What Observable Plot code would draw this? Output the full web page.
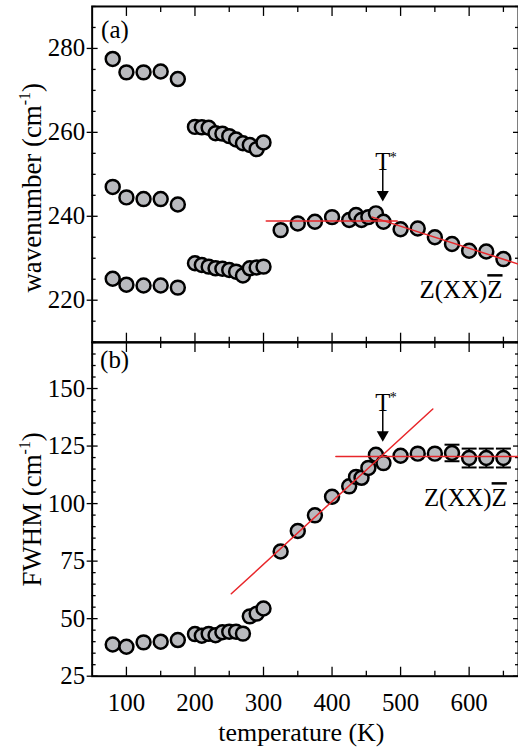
<!DOCTYPE html>
<html><head><meta charset="utf-8">
<script src="https://cdn.jsdelivr.net/npm/d3@7"></script>
<script src="https://cdn.jsdelivr.net/npm/@observablehq/plot@0.6"></script>
<style>html,body{margin:0;padding:0;overflow:hidden;background:#fff}svg{display:block}</style>
</head><body><div id="chart"></div>
<script>
// ---- data ----
const tempLow  = [80, 100, 125, 150, 175];
const tempMid  = [200, 210, 220, 230, 240, 250, 260, 270, 280, 290, 300];
const tempHigh = [325, 350, 375, 400, 425, 435, 443, 453, 464, 475, 500, 525, 550, 575, 600, 625, 650];

const wnLowA = [277.5, 274.3, 274.3, 274.5, 272.7];
const wnLowB = [247.0, 244.5, 244.1, 244.1, 242.8];
const wnLowC = [225.1, 223.7, 223.5, 223.5, 223.0];
const wnMidA = [261.3, 261.2, 261.1, 259.8, 259.7, 259.1, 258.3, 257.4, 257.0, 256.0, 257.6];
const wnMidB = [228.8, 228.4, 228.0, 227.6, 227.5, 227.2, 226.8, 225.9, 227.6, 227.8, 228.0];
const wnHigh = [236.7, 238.3, 238.7, 239.8, 239.1, 240.3, 239.1, 239.8, 240.7, 238.7, 236.9, 237.1, 235.0, 233.4, 231.8, 231.6, 229.8];

const fwLow  = [38.8, 37.8, 39.7, 40.0, 40.7];
const fwMid  = [43.3, 42.6, 43.4, 42.8, 44.1, 44.3, 44.3, 43.5, 51.0, 52.2, 54.4];
const fwHigh = [79.2, 88.1, 94.9, 103.0, 107.5, 111.6, 111.2, 115.5, 121.2, 117.6, 120.8, 121.7, 121.7, 122.0, 119.8, 119.8, 119.8];
const fwErr  = [0, 0, 0, 0, 0, 0, 0, 0, 0, 0, 0, 0, 0, 3.6, 4.1, 4.1, 4.1];

// linear fits (red lines): endpoints
const fitWnFlatT = [304, 495], fitWnFlatV = [238.9, 238.9];
const fitWnSlopeT = [458.7, 672], fitWnSlopeV = [239.8, 228.6];
const fitFwSlopeT = [253, 547], fitFwSlopeV = [60.8, 141.1];
const fitFwFlatT = [405.6, 672], fitFwFlatV = [120.5, 120.5];

// annotations
const tStar = 474;
const tStarWn = {label: 251.0, shaftTop: 250.3, tip: 244.4};
const tStarFw = {label: 140.3, shaftTop: 138.0, tip: 128.4};
const geomLabel = "Z(XX)Z";
const geomWn = {t: 648.7, v: 220.5};
const geomFw = {t: 655, v: 98.9};

const xDomain = [50, 672];
const xMajor = [100, 200, 300, 400, 500, 600];
const xMinor = [150, 250, 350, 450, 550, 650];
const wnDomain = [210, 290];
const wnMajor = [220, 240, 260, 280];
const wnMinor = d3.range(210, 291, 5).filter(d => !wnMajor.includes(d));
const fwDomain = [25, 170];
const fwMajor = [25, 50, 75, 100, 125, 150];
const fwMinor = d3.range(25, 171, 5).filter(d => !fwMajor.includes(d));

// ---- build tables ----
const pts = (T, V) => T.map((t, i) => ({t, v: V[i]}));
const wnPoints = [...pts(tempLow, wnLowA), ...pts(tempLow, wnLowB), ...pts(tempLow, wnLowC),
  ...pts(tempMid, wnMidA), ...pts(tempMid, wnMidB), ...pts(tempHigh, wnHigh)];
const fwPoints = [...pts(tempLow, fwLow), ...pts(tempMid, fwMid), ...pts(tempHigh, fwHigh)];
const fwErrPts = tempHigh.map((t, i) => ({t, v: fwHigh[i], e: fwErr[i]})).filter(d => d.e > 0);

const FONT = "'Liberation Serif', 'Times New Roman', Times, serif";
const GRAY = "#b9babe";
const RED = "#e8262a";
const W = 520, ML = 92;

const capSymbol = {draw(ctx, size) { const r = Math.sqrt(size / Math.PI); ctx.moveTo(-r, 0); ctx.lineTo(r, 0); }};

function frameTicks(yMajor, yMinor) {
  return [
    Plot.axisX({anchor: "bottom", ticks: xMajor, tickSize: -9, text: null, strokeWidth: 1.3}),
    Plot.axisX({anchor: "bottom", ticks: xMinor, tickSize: -5, text: null, strokeWidth: 1.3}),
    Plot.axisX({anchor: "top", ticks: xMajor, tickSize: -9, text: null, strokeWidth: 1.3}),
    Plot.axisX({anchor: "top", ticks: xMinor, tickSize: -5, text: null, strokeWidth: 1.3}),
    Plot.axisY({anchor: "left", ticks: yMajor, tickSize: 5, text: null, strokeWidth: 1.3}),
    Plot.axisY({anchor: "left", ticks: yMajor, tickSize: -6, text: null, strokeWidth: 1.3}),
    Plot.axisY({anchor: "left", ticks: yMinor, tickSize: -4, text: null, strokeWidth: 1.3}),
    Plot.axisY({anchor: "right", ticks: yMajor, tickSize: -6, text: null, strokeWidth: 1.3}),
    Plot.axisY({anchor: "right", ticks: yMinor, tickSize: -4, text: null, strokeWidth: 1.3}),
    Plot.axisY({anchor: "left", ticks: yMajor, tickSize: 0, tickPadding: 7, fontSize: 25}),
    Plot.frame({stroke: "black", strokeWidth: 2})
  ];
}

function tStarMarks(a) {
  return [
    Plot.text([0], {x: () => tStar, y: () => a.label, text: () => "T", textAnchor: "middle", lineAnchor: "bottom", fontSize: 25}),
    Plot.text([0], {x: () => tStar, y: () => a.label, text: () => "*", textAnchor: "start", lineAnchor: "bottom", fontSize: 14, dx: 7, dy: -8.5}),
    Plot.link([0], {x1: () => tStar, x2: () => tStar, y1: () => a.shaftTop, y2: () => a.tip, stroke: "black", strokeWidth: 1.5, dy: -6}),
    Plot.dot([0], {x: () => tStar, y: () => a.tip, symbol: "triangle", rotate: 180, r: 4.5, fill: "black", dy: -3.4})
  ];
}

const style = {fontFamily: FONT, fontSize: "25px", color: "black", background: "white", overflow: "visible"};

const panelA = Plot.plot({
  width: W, height: 343, marginLeft: ML, marginRight: 0, marginTop: 6, marginBottom: 0,
  x: {domain: xDomain, label: null}, y: {domain: wnDomain, label: null},
  style,
  marks: [
    ...frameTicks(wnMajor, wnMinor),
    Plot.dot(wnPoints, {x: "t", y: "v", r: 7, fill: GRAY, stroke: "black", strokeWidth: 2.5}),
    Plot.line(pts(fitWnFlatT, fitWnFlatV), {x: "t", y: "v", stroke: RED, strokeWidth: 1.5}),
    Plot.line(pts(fitWnSlopeT, fitWnSlopeV), {x: "t", y: "v", stroke: RED, strokeWidth: 1.5}),
    ...tStarMarks(tStarWn),
    Plot.text([geomLabel], {x: () => geomWn.t, y: () => geomWn.v, text: d => d, textAnchor: "end", lineAnchor: "bottom", fontSize: 25}),
    Plot.text(["(a)"], {frameAnchor: "top-left", text: d => d, textAnchor: "start", lineAnchor: "bottom", dx: 9, dy: 32, fontSize: 25}),
    Plot.text(["wavenumber (cm-1)"], {frameAnchor: "left", text: d => d, rotate: -90, textAnchor: "middle", lineAnchor: "bottom", dx: -51, dy: 13.5, fontSize: 27})
  ]
});

const panelB = Plot.plot({
  width: W, height: 407, marginLeft: ML, marginRight: 0, marginTop: 0, marginBottom: 72,
  x: {domain: xDomain, label: null}, y: {domain: fwDomain, label: null},
  style,
  marks: [
    ...frameTicks(fwMajor, fwMinor),
    Plot.axisX({anchor: "bottom", ticks: xMajor, tickSize: 0, tickPadding: 17, fontSize: 25}),
    Plot.ruleX(fwErrPts, {x: "t", y1: d => d.v - d.e, y2: d => d.v + d.e, stroke: "black", strokeWidth: 2}),
    Plot.dot(fwErrPts, {x: "t", y: d => d.v - d.e, symbol: capSymbol, r: 7.5, stroke: "black", strokeWidth: 2, fill: "none"}),
    Plot.dot(fwErrPts, {x: "t", y: d => d.v + d.e, symbol: capSymbol, r: 7.5, stroke: "black", strokeWidth: 2, fill: "none"}),
    Plot.dot(fwPoints, {x: "t", y: "v", r: 7, fill: GRAY, stroke: "black", strokeWidth: 2.5}),
    Plot.line(pts(fitFwSlopeT, fitFwSlopeV), {x: "t", y: "v", stroke: RED, strokeWidth: 1.5}),
    Plot.line(pts(fitFwFlatT, fitFwFlatV), {x: "t", y: "v", stroke: RED, strokeWidth: 1.5}),
    ...tStarMarks(tStarFw),
    Plot.text([geomLabel], {x: () => geomFw.t, y: () => geomFw.v, text: d => d, textAnchor: "end", lineAnchor: "bottom", fontSize: 25}),
    Plot.text(["(b)"], {frameAnchor: "top-left", text: d => d, textAnchor: "start", lineAnchor: "bottom", dx: 8, dy: 26, fontSize: 25}),
    Plot.text(["FWHM (cm-1)"], {frameAnchor: "left", text: d => d, rotate: -90, textAnchor: "middle", lineAnchor: "bottom", dx: -51, dy: 0, fontSize: 27}),
    Plot.text(["temperature (K)"], {frameAnchor: "bottom", text: d => d, textAnchor: "middle", lineAnchor: "bottom", dx: -4, dy: 65, fontSize: 26})
  ]
});

// rich text: superscripts and overline
function enrich(svg) {
  d3.select(svg).selectAll("text").each(function() {
    const t = this.textContent;
    if (t === geomLabel) {
      this.innerHTML = 'Z(XX)<tspan text-decoration="overline">Z</tspan>';
    } else if (t.endsWith("(cm-1)")) {
      const head = t.slice(0, -3);
      this.innerHTML = head + '<tspan font-size="16" dy="-11">-1</tspan><tspan dy="11">)</tspan>';
    }
  });
}
enrich(panelA); enrich(panelB);

const root = document.getElementById("chart");
root.appendChild(panelA);
root.appendChild(panelB);
</script>
</body></html>
